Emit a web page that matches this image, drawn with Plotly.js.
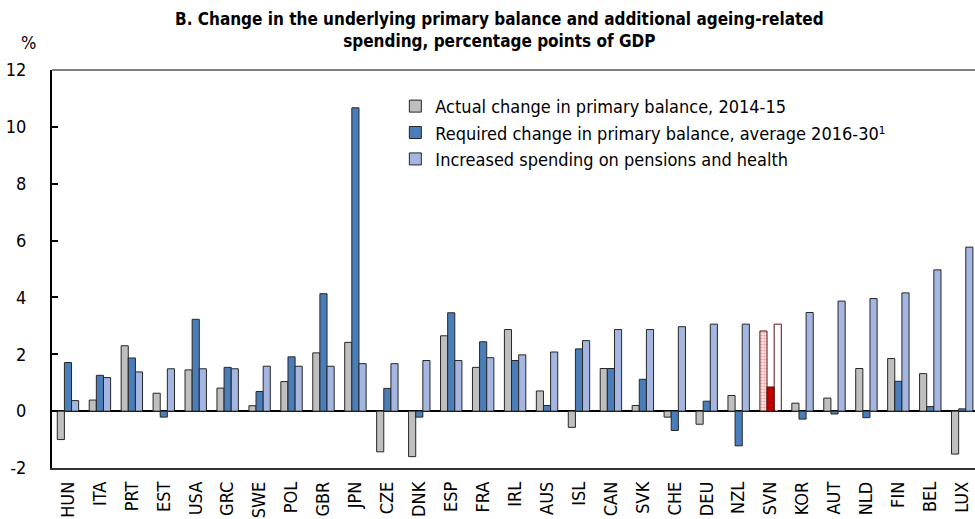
<!DOCTYPE html>
<html>
<head>
<meta charset="utf-8">
<script src="https://cdn.plot.ly/plotly-3.0.1.min.js"></script>
<style>html,body{margin:0;padding:0;background:#fff;}#chart{width:975px;height:519px;}</style>
</head>
<body>
<div id="chart"></div>
<script>
const countries = ["HUN","ITA","PRT","EST","USA","GRC","SWE","POL","GBR","JPN","CZE","DNK","ESP","FRA","IRL","AUS","ISL","CAN","SVK","CHE","DEU","NZL","SVN","KOR","AUT","NLD","FIN","BEL","LUX"];
const actualChange = [-1.0,0.39,2.30,0.63,1.45,0.81,0.19,1.04,2.05,2.42,-1.43,-1.60,2.65,1.54,2.87,0.71,-0.57,1.50,0.20,-0.21,-0.46,0.55,2.82,0.28,0.46,1.50,1.85,1.32,-1.51];
const requiredChange = [1.71,1.26,1.87,-0.21,3.23,1.54,0.69,1.91,4.13,10.67,0.80,-0.21,3.46,2.44,1.78,0.20,2.19,1.50,1.12,-0.68,0.35,-1.22,0.85,-0.28,-0.10,-0.23,1.05,0.16,0.08];
const ageingSpending = [0.37,1.18,1.38,1.49,1.49,1.49,1.58,1.58,1.58,1.67,1.67,1.78,1.78,1.88,1.98,2.08,2.48,2.87,2.87,2.97,3.06,3.06,3.06,3.47,3.87,3.96,4.16,4.97,5.77];
const seriesNames = ["Actual change in primary balance, 2014-15","Required change in primary balance, average 2016-30\u00b9","Increased spending on pensions and health"];
const yTicks = [-2,0,2,4,6,8,10,12];
const highlight = "SVN";
const chartTitle = "B. Change in the underlying primary balance and additional ageing-related<br>spending, percentage points of GDP";

const FONT = "'Liberation Sans Narrow', 'Arial Narrow', 'DejaVu Sans Condensed', sans-serif";
const isH = countries.map(c => c === highlight);
const outline = {color: isH.map(h => h ? '#5a1010' : '#262626'), width: 1};

const traces = [
  {
    type: 'bar', name: seriesNames[0], x: countries, y: actualChange,
    marker: {
      color: isH.map(h => h ? '#f0a8a8' : '#bfbfbf'),
      line: outline,
      pattern: {shape: isH.map(h => h ? '.' : ''), fgcolor: '#cc1f1f', size: 3, solidity: 0.6, fillmode: 'replace'}
    }
  },
  {
    type: 'bar', name: seriesNames[1], x: countries, y: requiredChange,
    marker: {color: isH.map(h => h ? '#c00000' : '#4a7ebb'), line: outline}
  },
  {
    type: 'bar', name: seriesNames[2], x: countries, y: ageingSpending,
    marker: {
      color: isH.map(h => h ? '#ffffff' : '#a5b6e2'),
      line: outline,
      pattern: {shape: isH.map(h => h ? '.' : ''), fgcolor: '#e04040', size: 7, solidity: 0.15, fillmode: 'replace'}
    }
  }
];

const layout = {
  width: 975, height: 519,
  margin: {l: 52, r: 0, t: 70, b: 51, pad: 0},
  paper_bgcolor: '#fff', plot_bgcolor: '#fff',
  font: {family: FONT, size: 17, color: '#000'},
  barmode: 'group', bargap: 0.33, bargroupgap: 0,
  xaxis: {
    type: 'category', range: [-0.5, 28.4],
    tickangle: -90, ticks: '', showgrid: false, zeroline: false,
    showline: true, linecolor: '#333', linewidth: 1.5, mirror: false,
    tickfont: {family: FONT, size: 18, color: '#000'},
    ticklabelstandoff: 5
  },
  yaxis: {
    range: [-2, 12], tickvals: yTicks, ticktext: yTicks.map(String),
    ticks: 'inside', ticklen: 6, tickwidth: 2, tickcolor: '#000',
    showgrid: false, zeroline: true, zerolinecolor: '#000', zerolinewidth: 2,
    showline: true, linecolor: '#000', linewidth: 2,
    tickfont: {family: FONT, size: 18, color: '#000'},
    ticklabelstandoff: 20
  },
  showlegend: true,
  legend: {
    x: 0.372, y: 0.955, xanchor: 'left', yanchor: 'top',
    bgcolor: 'rgba(0,0,0,0)', font: {family: FONT, size: 18, color: '#000'},
    traceorder: 'normal', tracegroupgap: 0, itemwidth: 30
  },
  shapes: [
    {type: 'line', xref: 'paper', yref: 'paper', x0: 0, x1: 1, y0: 1, y1: 1, line: {color: '#555', width: 1.5}}
  ],
  annotations: [
    {text: '<b>' + chartTitle + '</b>', xref: 'paper', yref: 'paper', x: 0.485, y: 1.0, yshift: 40, xanchor: 'center', yanchor: 'middle', align: 'center', showarrow: false, font: {family: FONT, size: 17, color: '#000'}},
    {text: '%', xref: 'paper', yref: 'paper', x: -0.026, y: 1.0, yshift: 28, xanchor: 'center', yanchor: 'middle', showarrow: false, font: {family: FONT, size: 18, color: '#000'}}
  ]
};

Plotly.newPlot('chart', traces, layout, {displayModeBar: false, staticPlot: true});
</script>
</body>
</html>
